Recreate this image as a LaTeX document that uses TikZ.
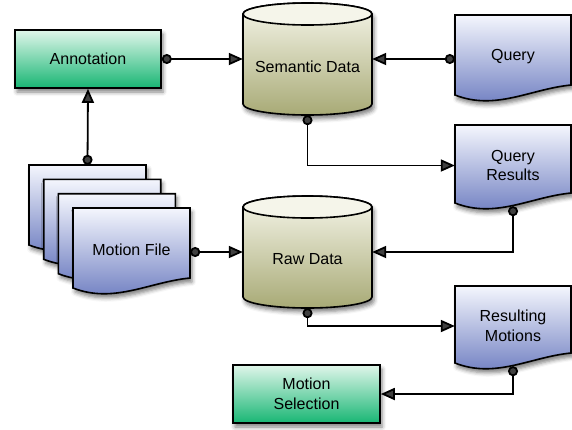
\documentclass[tikz,border=0pt]{standalone}
\usepackage{fontspec}
\setmainfont{Liberation Sans}
\usetikzlibrary{arrows.meta,shadows.blur,calc}
\definecolor{greenTop}{RGB}{224,246,234}
\definecolor{greenBot}{RGB}{24,182,116}
\definecolor{cylTop}{RGB}{246,246,234}
\definecolor{cylBot}{RGB}{168,170,118}
\definecolor{cylCap}{RGB}{245,245,234}
\definecolor{blueTop}{RGB}{244,246,253}
\definecolor{blueBot}{RGB}{104,120,190}
\tikzset{
  shad/.style={blur shadow={shadow xshift=2pt, shadow yshift=-4pt, shadow blur radius=4pt, shadow opacity=50}},
  greenbox/.style={draw, line width=1.6pt, top color=greenTop, bottom color=greenBot, shad,
    minimum width=146pt, minimum height=58pt, inner sep=0pt, align=center, font=\fontsize{16}{19.5}\selectfont},
  cylbody/.style={draw, line width=1.6pt, top color=cylTop, bottom color=cylBot, shad},
  cyltop/.style={draw, line width=1.6pt, fill=cylCap},
  cylnode/.style={inner sep=0pt, minimum width=129pt, minimum height=112pt},
  docshape/.style={draw, line width=1.6pt, top color=blueTop, bottom color=blueBot, shad},
  doctext/.style={inner sep=0pt, align=center, font=\fontsize{16}{19.5}\selectfont},
  labeltext/.style={inner sep=0pt, align=center, font=\fontsize{16}{19.5}\selectfont},
  conn/.style={line width=1.8pt, {Circle[length=10pt]}-{Triangle[length=14pt,width=12pt]}},
}
% cylinder: #1 cx, #2 top ellipse centre y, #3 bottom ellipse centre y
\newcommand{\dbcyl}[3]{%
  \path[cylbody] (#1-64.5,#2) -- (#1-64.5,#3)
    .. controls (#1-64.5,#3+6.08) and (#1-35.62,#3+11) .. (#1,#3+11)
    .. controls (#1+35.62,#3+11) and (#1+64.5,#3+6.08) .. (#1+64.5,#3)
    -- (#1+64.5,#2)
    .. controls (#1+64.5,#2-6.08) and (#1+35.62,#2-11) .. (#1,#2-11)
    .. controls (#1-35.62,#2-11) and (#1-64.5,#2-6.08) .. (#1-64.5,#2) -- cycle;
  \draw[cyltop] (#1,#2) ellipse [x radius=64.5pt, y radius=11pt];
}
% document: #1 name, #2 left, #3 top, #4 width, #5 height, #6 text
\newcommand{\docnode}[6]{%
  \path[docshape] (#2,#3) -- (#2+#4,#3) -- (#2+#4,#3+#5-10)
    .. controls (#2+0.65*#4,#3+#5-6) and (#2+0.35*#4,#3+#5+16) .. (#2,#3+#5) -- cycle;
  \node[doctext, minimum width={#4pt}, minimum height={#5pt+3pt}] (#1) at (#2+#4/2,#3+#5/2+1.5) {#6};
}
\begin{document}
\begin{tikzpicture}[x=1pt,y=-1pt]
\useasboundingbox (0,0) rectangle (572,429);
% boxes
\node[greenbox] (ann) at (88,59) {Annotation};
\node[greenbox, minimum width=147pt] (ms) at (306.5,394) {Motion\\Selection};
% cylinders
\dbcyl{307.5}{14}{104}
\node[cylnode] (sem) at (307.5,59) {};
\node[labeltext] (semtext) at (307.5,67) {Semantic Data};
\dbcyl{307.5}{207}{297}
\node[cylnode] (raw) at (307.5,252) {};
\node[labeltext] (rawtext) at (307.5,259) {Raw Data};
% documents
\docnode{q}{455}{15}{116}{80}{Query}
\docnode{qr}{455}{125}{116}{78}{Query\\Results}
\docnode{rm}{455}{286}{116}{77}{Resulting\\Motions}
\docnode{mf0}{29}{165}{117}{80}{}
\docnode{mf1}{43.7}{179.3}{117}{80}{}
\docnode{mf2}{58.3}{193.7}{117}{80}{}
\docnode{mf}{73}{208}{117}{80}{Motion File}
% connectors
\draw[conn] (ann.east) -- (ann.east -| sem.west);
\draw[conn] (q.west |- ann.east) -- (sem.east |- ann.east);
\draw[conn] (mf0.north) -- (ann.south);
\draw[conn] (sem.south) |- (qr.west);
\draw[conn] (qr.south) |- (raw.east);
\draw[conn] (mf.east |- raw.west) -- (raw.west);
\draw[conn] (raw.south) |- (rm.west);
\draw[conn] (rm.south) |- (ms.east);
\end{tikzpicture}
\end{document}
